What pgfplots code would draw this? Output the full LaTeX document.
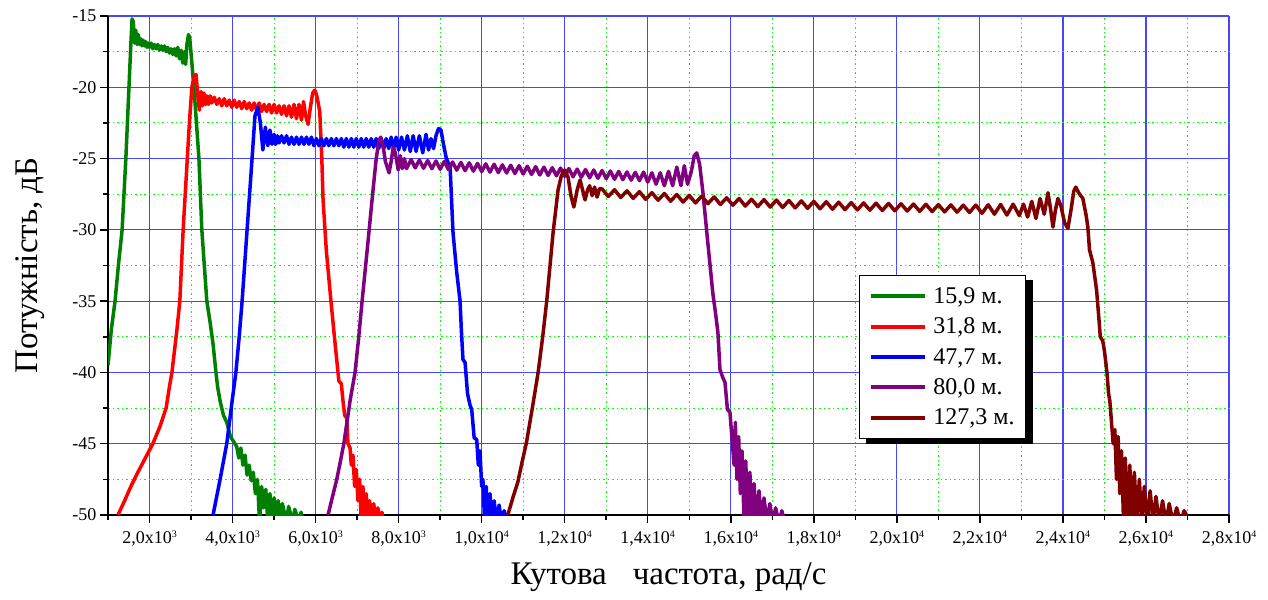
\documentclass[border=0pt]{standalone}
\usepackage{fontspec}
\setmainfont{Liberation Serif}
\usepackage{pgfplots}
\pgfplotsset{compat=1.18}
\definecolor{cgreen}{RGB}{0,128,0}
\definecolor{cred}{RGB}{255,0,0}
\definecolor{cblue}{RGB}{0,0,255}
\definecolor{cpurple}{RGB}{128,0,128}
\definecolor{cdark}{RGB}{128,0,0}
\definecolor{gridblue}{RGB}{70,70,255}
\definecolor{gridgreen}{RGB}{0,255,0}
\newcommand{\sx}[1]{\raisebox{0.75ex}{\fontsize{10}{10}\selectfont #1}}

\begin{document}
\begin{tikzpicture}
\begin{axis}[name=ax,
  width=1121pt, height=499pt, scale only axis,
  xmin=1000, xmax=28000, ymin=-50, ymax=-15,
  axis lines*=left, axis line style={-, black, line width=2pt},
  scaled x ticks=false,
  xtick={2000,4000,...,28000},
  minor xtick={1000,3000,...,27000},
  xticklabels={{2,0x10\sx{3}},{4,0x10\sx{3}},{6,0x10\sx{3}},{8,0x10\sx{3}},
    {1,0x10\sx{4}},{1,2x10\sx{4}},{1,4x10\sx{4}},{1,6x10\sx{4}},
    {1,8x10\sx{4}},{2,0x10\sx{4}},{2,2x10\sx{4}},{2,4x10\sx{4}},
    {2,6x10\sx{4}},{2,8x10\sx{4}}},
  ytick={-50,-45,...,-15},
  minor ytick={-47.5,-42.5,...,-17.5},
  yticklabels={-50,-45,-40,-35,-30,-25,-20,-15},
  tick align=outside, tick pos=left,
  major tick length=8pt, minor tick length=5pt,
  tick style={black, line width=1.5pt},
  tick label style={font=\fontsize{18}{20}\selectfont},
  xticklabel style={yshift=-4pt},
  grid=both,
  major grid style={gridblue, line width=1.2pt},
  minor grid style={gridgreen, line width=1pt, dash pattern=on 1.5pt off 3pt},
  xlabel={Кутова\hspace{26pt}частота, рад/с},
  ylabel={Потужність, дБ},
  label style={font=\fontsize{33}{36}\selectfont},
  xlabel style={at={(axis description cs:0.5,-0.124)}, anchor=center},
  ylabel style={at={(axis description cs:-0.0696,0.5)}, anchor=center, rotate=0},
  legend style={name=leg, at={(0.670,0.481)}, anchor=north west, draw=black, line width=1pt, fill=white,
    font=\fontsize{24}{26}\selectfont, row sep=9pt, inner xsep=9pt, inner ysep=10pt},
  legend cell align=left,
  legend image code/.code={\draw[#1, line width=4pt] (0pt,0pt) -- (54pt,0pt); \path (59pt,0pt);},
  every axis plot/.append style={line width=3.5pt, line join=round},
]
% 15,9 m
\addplot[cgreen] coordinates {(1000,-39.5)(1080,-37)(1170,-35)(1250,-32.5)(1340,-30)(1430,-25)(1505,-20)(1550,-17)(1580,-15.2)(1610,-15.4)(1640,-16.9)(1670,-16.0)(1700,-17.0)(1730,-16.3)(1760,-17.0)(1790,-16.6)(1820,-17.1)
(1850,-16.7)(1880,-17.1)(1910,-16.8)(1940,-17.2)(1970,-16.9)(2000,-17.2)(2040,-16.9)(2080,-17.3)(2120,-17.0)(2160,-17.3)(2200,-17.0)(2240,-17.4)(2280,-17.1)(2320,-17.4)(2360,-17.1)(2400,-17.5)(2440,-17.2)(2480,-17.6)(2520,-17.3)(2560,-17.7)(2600,-17.3)(2640,-17.8)(2680,-17.2)(2720,-18.0)(2760,-17.4)(2800,-18.3)(2840,-17.5)(2870,-18.4)(2900,-17.0)(2940,-16.3)(2970,-16.6)(3000,-17.6)(3040,-19)(3070,-20)(3130,-22.5)(3190,-25)(3260,-30)(3380,-35)(3460,-36.5)(3530,-38)(3600,-40)(3640,-41)(3700,-42)(3780,-43)(3860,-43.5)(3950,-44.5)(4100,-45.2)
(4150,-46)(4200,-45.3)(4250,-46.5)(4300,-45.8)(4350,-47.2)(4400,-46.5)(4450,-47.6)(4500,-47)(4550,-48.5)(4600,-47.5)(4650,-50.5)(4700,-48)(4750,-49.5)(4800,-48.2)(4850,-50.5)(4900,-48.5)(4950,-50.5)(5000,-48.8)(5050,-50.5)(5100,-49)(5150,-50.5)(5200,-49.2)(5300,-50.5)(5350,-49.4)(5450,-50.5)(5500,-49.6)(5600,-50.5)(5650,-49.8)(5700,-50.5)};
\addlegendentry{15,9 м.}
% 31,8 m
\addplot[cred] coordinates {(1240,-50)(1400,-49)(1550,-48)(1720,-47)(1900,-46)(2080,-45)(2250,-43.8)(2400,-42.5)(2480,-41)(2540,-40)(2600,-38.5)(2660,-37)(2730,-35)(2810,-30)(2860,-27.5)(2910,-25)(2960,-22.5)(3020,-20)(3080,-19.2)(3120,-19.1)(3160,-20.5)(3200,-21.6)(3240,-20.3)(3280,-21.3)(3310,-20.4)(3350,-21.2)(3380,-20.6)(3420,-21.2)
(3460,-20.6)(3500,-21.1)(3560,-20.7)(3620,-21.2)(3680,-20.8)(3740,-21.3)(3800,-20.8)(3860,-21.3)(3920,-20.9)(3980,-21.4)(4040,-20.9)(4100,-21.4)(4160,-21.0)(4220,-21.5)(4280,-21.0)(4340,-21.5)(4400,-21.1)(4460,-21.6)(4520,-21.1)(4580,-21.6)(4640,-21.1)(4700,-21.7)(4760,-21.2)(4820,-21.7)(4880,-21.2)(4940,-21.8)(5000,-21.2)(5060,-21.8)(5120,-21.3)(5180,-21.9)(5240,-21.3)(5300,-22.0)(5360,-21.3)(5420,-22.1)(5480,-21.2)(5540,-22.2)(5600,-21.2)(5660,-22.3)(5710,-21.0)(5760,-22.0)(5820,-22.6)(5870,-21.5)(5930,-20.4)(5980,-20.2)(6030,-20.6)(6100,-21.7)(6150,-25)(6180,-27.9)(6260,-31.5)(6370,-35)(6470,-38)(6540,-40)(6560,-40.6)(6620,-40.8)(6660,-42)(6700,-43)(6750,-43.2)(6780,-45)(6830,-45.3)(6860,-46.5)(6900,-45.8)(6940,-48)(6980,-46.8)(7020,-49)(7060,-47.5)(7100,-50.5)(7140,-48)(7180,-50.5)(7220,-48.5)(7260,-50.5)(7300,-49)(7350,-50.5)(7400,-49.2)(7450,-50.5)(7500,-49.5)(7560,-50.5)(7600,-49.8)(7620,-50.5)};
\addlegendentry{31,8 м.}
% 47,7 m
\addplot[cblue] coordinates {(3530,-50)(3700,-47.5)(3860,-45)(3990,-42)(4080,-40)(4160,-37.5)(4230,-35)(4350,-30)(4470,-25)(4540,-22)(4610,-21.4)(4670,-22.5)(4730,-24.4)(4790,-22.8)(4850,-24.1)(4900,-23.0)(4950,-24.0)(5000,-23.3)(5040,-24.0)(5080,-23.4)
(5120,-23.9)(5180,-23.4)(5240,-23.9)(5300,-23.4)(5360,-24.0)(5420,-23.5)(5480,-24.0)(5540,-23.5)(5600,-24.0)(5660,-23.5)(5720,-24.0)(5780,-23.5)(5840,-24.0)(5900,-23.5)(5960,-24.1)(6020,-23.6)(6080,-24.1)(6140,-23.6)(6200,-24.1)(6260,-23.6)(6320,-24.1)(6380,-23.6)(6440,-24.1)(6500,-23.6)(6560,-24.1)(6620,-23.6)(6680,-24.2)(6740,-23.6)(6800,-24.2)(6860,-23.6)(6920,-24.2)(6980,-23.6)(7040,-24.2)(7100,-23.6)(7160,-24.2)(7220,-23.6)(7280,-24.2)(7340,-23.6)(7400,-24.2)(7460,-23.6)(7520,-24.3)(7580,-23.6)(7640,-24.3)(7700,-23.6)(7760,-24.3)(7820,-23.5)(7880,-24.3)(7940,-23.5)(8000,-24.4)(8070,-23.5)(8140,-24.4)(8210,-23.4)(8280,-24.5)(8350,-23.4)(8420,-24.5)(8500,-23.4)(8580,-24.6)(8660,-23.3)(8720,-24.4)(8780,-23.6)(8840,-24.3)(8900,-23.4)(8960,-22.9)(9020,-23.0)(9080,-24)(9150,-25)(9240,-25.6)(9310,-30.2)(9400,-33)(9480,-35)(9510,-37)(9550,-39.1)(9600,-39.3)(9660,-41.5)(9720,-42.3)(9760,-42.6)(9820,-44.6)(9880,-44.7)(9920,-46.5)(9960,-45.5)(10000,-48)(10030,-47.5)(10070,-50.5)(10110,-48)(10150,-50.5)(10200,-48.5)(10250,-50.5)(10300,-49)(10360,-50.5)(10420,-49.3)(10480,-50.5)(10540,-49.7)(10630,-50.5)};
\addlegendentry{47,7 м.}
% 80,0 m
\addplot[cpurple] coordinates {(6300,-50)(6400,-48.8)(6510,-47.5)(6600,-46.2)(6680,-45)(6830,-42)(6950,-40)(7040,-37.5)(7120,-35)(7240,-31.5)(7360,-27.9)(7460,-25)(7530,-23.7)(7570,-23.5)(7620,-24)(7680,-25.2)(7770,-26.0)(7820,-25.2)(7870,-24.2)(7920,-24.6)(7990,-25.8)(8040,-24.8)(8090,-25.7)(8140,-25.0)(8190,-25.7)
(8300,-25.07)(8400,-25.65)(8500,-25.10)(8600,-25.68)(8700,-25.14)(8800,-25.71)(8900,-25.17)(9000,-25.75)(9100,-25.20)(9200,-25.78)(9300,-25.24)(9400,-25.81)(9500,-25.27)(9600,-25.85)(9700,-25.30)(9800,-25.88)(9900,-25.34)(10000,-25.91)(10100,-25.37)(10200,-25.95)(10300,-25.40)(10400,-25.98)(10500,-25.44)(10600,-26.01)(10700,-25.47)(10800,-26.05)(10900,-25.50)(11000,-26.08)(11100,-25.54)(11200,-26.11)(11300,-25.57)(11400,-26.15)(11500,-25.60)(11600,-26.18)(11700,-25.64)(11800,-26.21)(11900,-25.67)(12000,-26.25)(12100,-25.70)(12200,-26.28)(12300,-25.74)(12400,-26.31)(12500,-25.77)(12600,-26.35)(12700,-25.80)(12800,-26.38)(12900,-25.84)(13000,-26.41)(13100,-25.87)(13200,-26.45)(13300,-25.90)(13400,-26.48)(13500,-25.94)(13600,-26.51)(13700,-25.97)(13800,-26.55)(13900,-25.95)(14000,-26.65)
(14100,-26.0)(14200,-26.8)(14300,-26.0)(14400,-26.9)(14500,-25.9)(14600,-26.9)(14700,-25.6)(14800,-26.9)(14880,-25.5)(14960,-26.8)(15050,-25.9)(15120,-24.8)(15180,-24.6)(15250,-25.4)(15330,-27.4)(15450,-31)(15570,-34.5)(15640,-36)(15690,-37.2)(15740,-39.8)(15800,-40.3)(15860,-40.7)(15920,-42.6)(15980,-42.8)(16050,-45.4)(16080,-46.5)(16110,-43.5)
(16150,-47.5)(16190,-44.5)(16230,-48.5)(16270,-45.5)(16320,-50.5)(16360,-46.2)(16410,-50.5)(16460,-47)(16510,-50.5)(16560,-47.8)(16620,-50.5)(16680,-48.3)(16740,-50.5)(16800,-48.8)(16870,-50.5)(16940,-49.2)(17010,-50.5)(17080,-49.5)(17160,-50.5)(17230,-49.7)(17300,-50.5)(17370,-50.3)};
\addlegendentry{80,0 м.}
% 127,3 m
\addplot[cdark] coordinates {(10630,-50)(10750,-48.8)(10870,-47.7)(10980,-46.2)(11080,-44.9)(11220,-42.5)(11360,-40)(11470,-37.5)(11570,-34.9)(11720,-30.2)(11840,-27.2)(11920,-26.2)(12000,-25.8)(12080,-26.3)(12150,-27.6)(12220,-28.4)(12300,-27.2)(12370,-26.5)(12430,-27.2)(12490,-27.9)(12550,-27.2)(12600,-26.9)(12660,-27.6)(12720,-27.0)(12780,-27.7)(12840,-27.1)
(12900,-27.13)(13050,-27.66)(13200,-27.19)(13350,-27.73)(13500,-27.26)(13650,-27.79)(13800,-27.32)(13950,-27.86)(14100,-27.39)(14250,-27.92)(14400,-27.45)(14550,-27.99)(14700,-27.52)(14850,-28.05)(15000,-27.58)(15150,-28.11)(15300,-27.63)(15450,-28.16)(15600,-27.69)(15750,-28.22)(15900,-27.75)(16050,-28.27)(16200,-27.80)(16350,-28.33)(16500,-27.85)(16650,-28.37)(16800,-27.88)(16950,-28.40)(17100,-27.91)(17250,-28.43)(17400,-27.94)(17550,-28.46)(17700,-27.97)(17850,-28.49)(18000,-28.00)(18150,-28.52)(18300,-28.03)(18450,-28.55)(18600,-28.06)(18750,-28.58)(18900,-28.09)(19050,-28.60)(19200,-28.11)(19350,-28.62)(19500,-28.13)(19650,-28.64)(19800,-28.15)(19950,-28.66)(20100,-28.17)(20250,-28.68)(20400,-28.19)(20550,-28.70)(20700,-28.21)(20850,-28.72)(21000,-28.23)(21150,-28.74)(21300,-28.25)(21450,-28.76)(21600,-28.27)(21750,-28.78)(21900,-28.26)(22050,-28.84)(22200,-28.24)(22350,-28.90)(22500,-28.22)(22650,-28.96)(22800,-28.20)
(22950,-29.0)(23050,-28.2)(23150,-29.1)(23250,-28.0)(23350,-29.2)(23450,-27.8)(23550,-28.9)(23640,-27.4)(23700,-28.5)(23760,-29.8)(23820,-28.6)(23880,-27.8)(23950,-28.3)(24040,-29.5)(24120,-29.9)(24200,-28.5)(24260,-27.3)(24310,-27.0)(24380,-27.4)(24480,-27.8)(24560,-29)(24600,-29.8)(24640,-31.4)(24720,-32.3)(24810,-34.2)(24860,-36)(24900,-37.5)(24960,-37.8)(25000,-38.5)(25060,-40)(25100,-41.5)(25130,-42)(25170,-43.5)(25210,-45)(25250,-44)
(25290,-47.5)(25330,-44.5)(25370,-48.5)(25410,-45.5)(25460,-50.5)(25500,-46)(25560,-50.5)(25610,-46.5)(25670,-50.5)(25720,-47)(25780,-50.5)(25840,-47.5)(25900,-50.5)(25960,-48)(26030,-50.5)(26100,-48.3)(26170,-50.5)(26240,-48.7)(26320,-50.5)(26400,-49)(26480,-50.5)(26560,-49.2)(26650,-50.5)(26740,-49.5)(26830,-50.5)(26920,-49.7)(27060,-50.5)};
\addlegendentry{127,3 м.}
\end{axis}
% legend shadow
\fill[black] ([shift={(0pt,-5pt)}]leg.north east) rectangle ([shift={(7pt,-5pt)}]leg.south east);
\fill[black] ([shift={(7pt,0pt)}]leg.south west) rectangle ([shift={(7pt,-5pt)}]leg.south east);
\pgfresetboundingbox
\path[use as bounding box] ([shift={(-108pt,-84pt)}]ax.south west) rectangle ([shift={(39pt,16pt)}]ax.north east);
\end{tikzpicture}
\end{document}
